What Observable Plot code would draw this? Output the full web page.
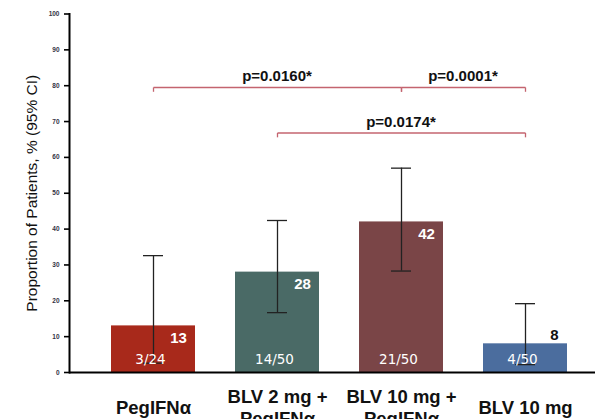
<!DOCTYPE html>
<html><head><meta charset="utf-8">
<script src="https://cdn.jsdelivr.net/npm/d3@7"></script>
<script src="https://cdn.jsdelivr.net/npm/@observablehq/plot@0.6"></script>
<style>
html,body{margin:0;padding:0;background:#fff;overflow:hidden;width:595px;height:419px;}
#chart{width:595px;height:419px;overflow:hidden;}
#chart svg{display:block;overflow:hidden;max-width:none;}
</style>
</head><body><div id="chart"></div>
<script>
const groups = ["PegIFNα", "BLV 2 mg +\nPegIFNα", "BLV 10 mg +\nPegIFNα", "BLV 10 mg"];
const values = [13, 28, 42, 8];
const ciLow = [2.6, 16.7, 28.3, 2.2];
const ciHigh = [32.6, 42.4, 57.0, 19.2];
const counts = ["3/24", "14/50", "21/50", "4/50"];
const colors = ["#a8291b", "#4a6a66", "#7a4547", "#4b6d9e"];
const yTicks = [0, 10, 20, 30, 40, 50, 60, 70, 80, 90, 100];
const comparisons = [
  {from: 0, to: 2, level: 79.5, label: "p=0.0160*"},
  {from: 2, to: 3, level: 79.5, label: "p=0.0001*"},
  {from: 1, to: 3, level: 66.8, label: "p=0.0174*"}
];

const data = groups.map((g, i) => ({
  group: g, value: values[i], lo: ciLow[i], hi: ciHigh[i], n: counts[i], color: colors[i]
}));
const brackets = comparisons.map(c => ({...c, g1: groups[c.from], g2: groups[c.to]}));
const bracketColor = "#c4646f";

// p-value labels centred between the two compared bars, placed via the plot's own scales
function bracketLabels(index, scales) {
  const g = d3.create("svg:g")
    .attr("font-family", "Liberation Sans, Arial, sans-serif")
    .attr("font-weight", "bold").attr("font-size", 15)
    .attr("text-anchor", "middle").attr("fill", "#111");
  const bw = scales.x.bandwidth ? scales.x.bandwidth() : 0;
  for (const b of brackets) {
    const cx = (scales.x(b.g1) + scales.x(b.g2)) / 2 + bw / 2;
    g.append("text").attr("x", cx).attr("y", scales.y(b.level) - 6).text(b.label);
  }
  return g.node();
}

const chart = Plot.plot({
  width: 595,
  height: 419,
  marginLeft: 69,
  marginRight: 0,
  marginTop: 13.5,
  marginBottom: 47,
  style: {fontFamily: "Liberation Sans, Arial, sans-serif", background: "#fff", overflow: "hidden", maxWidth: "none"},
  x: {domain: groups, range: [72.6, 605.4], paddingInner: 0.32, paddingOuter: 0.3, axis: null},
  y: {domain: [0, 100], axis: null},
  marks: [
    Plot.barY(data, {x: "group", y: "value", fill: "color"}),
    // error bars
    Plot.ruleX(data, {x: "group", y1: "lo", y2: "hi", stroke: "#222", strokeWidth: 1.3}),
    Plot.tickY(data, {x: "group", y: "hi", stroke: "#222", strokeWidth: 1.3, inset: 32}),
    Plot.tickY(data, {x: "group", y: "lo", stroke: "#222", strokeWidth: 1.3, inset: 32}),
    // value labels
    Plot.text(data.filter(d => d.value > 10), {x: "group", y: "value", text: d => String(d.value), fill: "#fff", fontWeight: "bold", fontSize: 15, dx: 25, dy: 12}),
    Plot.text(data.filter(d => d.value <= 10), {x: "group", y: "value", text: d => String(d.value), fill: "#111", fontWeight: "bold", fontSize: 15, dx: 29, dy: -9}),
    Plot.text(data, {x: "group", y: 0, text: "n", fill: "#fff", fontSize: 13.5, dy: -13, dx: -3, fontFamily: "DejaVu Sans, sans-serif"}),
    // category labels
    Plot.text(data, {x: "group", y: 0, text: "group", fill: "#111", fontWeight: "bold", fontSize: 18.5, dy: 34, lineHeight: 1.2}),
    // brackets
    Plot.link(brackets, {x1: "g1", x2: "g2", y1: "level", y2: "level", stroke: bracketColor, strokeWidth: 1.3}),
    Plot.link(brackets, {x1: "g1", x2: "g1", y1: "level", y2: d => d.level - 1.2, stroke: bracketColor, strokeWidth: 1.3}),
    Plot.link(brackets, {x1: "g2", x2: "g2", y1: "level", y2: d => d.level - 1.2, stroke: bracketColor, strokeWidth: 1.3}),
    bracketLabels,
    // axes
    Plot.ruleY([0], {stroke: "#000", strokeWidth: 2}),
    Plot.axisY({ticks: yTicks, tickSize: 5, tickPadding: 5, fontSize: 6.5, fontWeight: "bold", fill: "#334", stroke: "#000", strokeWidth: 1.6, label: null}),
    Plot.axisY({ticks: [], tickSize: 0, label: "Proportion of Patients, % (95% CI)", labelAnchor: "center", labelArrow: "none", labelOffset: 44, fontSize: 15.5, fill: "#111"}),
    Plot.frame({anchor: "left", stroke: "#000", strokeWidth: 2})
  ]
});
document.getElementById("chart").appendChild(chart);
</script></body></html>
